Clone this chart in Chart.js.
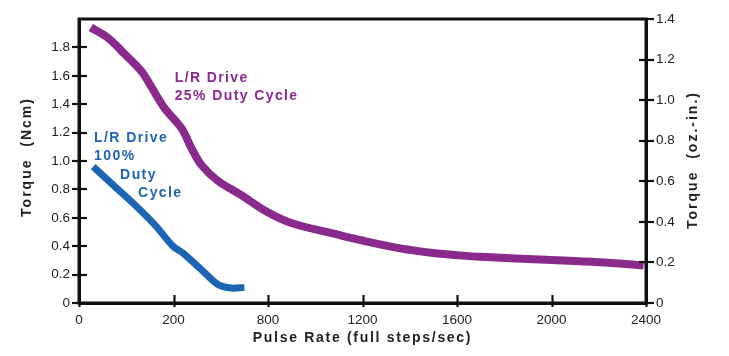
<!DOCTYPE html>
<html>
<head>
<meta charset="utf-8">
<script src="https://cdn.jsdelivr.net/npm/chart.js@4/dist/chart.umd.min.js"></script>
<style>
html,body{margin:0;padding:0;background:#fff;}
#wrap{width:729px;height:356px;position:relative;}
</style>
</head>
<body>
<div id="wrap"><canvas id="c" width="729" height="356"></canvas></div>
<script>
// ---- data ----
const xTickValues = [0, 400, 800, 1200, 1600, 2000, 2400];
const xTickLabels = ['0', '200', '800', '1200', '1600', '2000', '2400'];
const leftTickValues = [0, 0.2, 0.4, 0.6, 0.8, 1.0, 1.2, 1.4, 1.6, 1.8];
const rightTickValues = [0, 0.2, 0.4, 0.6, 0.8, 1.0, 1.2, 1.4];

const drive25X = [50, 120, 195, 265, 307, 363, 434, 476, 519, 588, 687, 793, 905, 1075, 1200, 1360, 1500, 1600, 1700, 2000, 2200, 2390];
const drive25Y = [1.94, 1.87, 1.75, 1.63, 1.52, 1.37, 1.23, 1.09, 0.97, 0.86, 0.76, 0.645, 0.56, 0.49, 0.44, 0.385, 0.352, 0.337, 0.325, 0.303, 0.287, 0.265];

const drive100X = [60, 152, 237, 321, 398, 441, 518, 588, 645, 700];
const drive100Y = [0.96, 0.82, 0.69, 0.55, 0.40, 0.35, 0.235, 0.13, 0.105, 0.11];

const seriesLabels = ['L/R Drive 25% Duty Cycle', 'L/R Drive 100% Duty Cycle'];
const xTitle = 'Pulse Rate (full steps/sec)';
const yTitle = 'Torque  (Ncm)';
const y2Title = 'Torque  (oz.-in.)';

// ---- styling ----
const PURPLE = '#8b2a8d';
const BLUE = '#1e64b4';
const FONT = '"Liberation Sans", Arial, Helvetica, sans-serif';

const toPts = (xs, ys) => xs.map((x, i) => ({x: x, y: ys[i]}));

const annotations = [
  {lines: ['L/R Drive', '25% Duty Cycle'], x: 405, y: 1.585, dy: 18.5, indent: [0, 0], color: PURPLE},
  {lines: ['L/R Drive', '100%', 'Duty', 'Cycle'], x: 64, y: 1.16, dy: 18.3, indent: [0, 0, 26, 44], color: BLUE}
];

const framePlugin = {
  id: 'frame',
  afterDatasetsDraw(chart) {
    const ctx = chart.ctx, a = chart.chartArea;
    const xs = chart.scales.x, yl = chart.scales.y, yr = chart.scales.y2;
    ctx.save();
    ctx.strokeStyle = '#111';
    ctx.lineCap = 'butt';
    // tick marks crossing the axes
    ctx.lineWidth = 2.2;
    xTickValues.forEach(v => {
      const p = Math.round(xs.getPixelForValue(v)) + 0.5;
      ctx.beginPath(); ctx.moveTo(p, a.bottom - 8); ctx.lineTo(p, a.bottom + 4); ctx.stroke();
    });
    leftTickValues.forEach(v => {
      const p = Math.round(yl.getPixelForValue(v));
      ctx.beginPath(); ctx.moveTo(a.left - 7, p); ctx.lineTo(a.left + 8, p); ctx.stroke();
    });
    rightTickValues.forEach(v => {
      const p = Math.round(yr.getPixelForValue(v));
      ctx.beginPath(); ctx.moveTo(a.right - 7, p); ctx.lineTo(a.right + 8, p); ctx.stroke();
    });
    // box
    ctx.lineWidth = 3;
    ctx.beginPath();
    ctx.moveTo(a.left, a.bottom);
    ctx.lineTo(a.left, a.top);
    ctx.lineTo(a.right, a.top);
    ctx.lineTo(a.right, a.bottom);
    ctx.closePath();
    ctx.stroke();
    ctx.restore();

    // annotations
    ctx.save();
    ctx.font = 'bold 14px ' + FONT;
    ctx.textBaseline = 'middle';
    ctx.textAlign = 'left';
    try { ctx.letterSpacing = '1.4px'; } catch (e) {}
    annotations.forEach(an => {
      const x0 = xs.getPixelForValue(an.x);
      const y0 = yl.getPixelForValue(an.y);
      ctx.fillStyle = an.color;
      an.lines.forEach((t, i) => ctx.fillText(t, x0 + an.indent[i], y0 + i * an.dy));
    });
    ctx.restore();

    // axis titles
    ctx.save();
    ctx.fillStyle = '#222';
    ctx.textBaseline = 'middle';
    ctx.textAlign = 'center';
    ctx.font = 'bold 14px ' + FONT;
    try { ctx.letterSpacing = '1.7px'; } catch (e) {}
    ctx.fillText(xTitle, (a.left + a.right) / 2, 338);
    try { ctx.letterSpacing = '2px'; } catch (e) {}
    ctx.save();
    ctx.translate(27, 157);
    ctx.rotate(-Math.PI / 2);
    ctx.fillText(yTitle, 0, 0);
    ctx.restore();
    ctx.save();
    ctx.translate(693, 160);
    ctx.rotate(-Math.PI / 2);
    ctx.fillText(y2Title, 0, 0);
    ctx.restore();
    ctx.restore();
  }
};

new Chart(document.getElementById('c'), {
  type: 'line',
  data: {
    datasets: [
      {label: seriesLabels[0], data: toPts(drive25X, drive25Y), borderColor: PURPLE, borderWidth: 8,
       pointRadius: 0, tension: 0.35, borderCapStyle: 'butt', borderJoinStyle: 'round', fill: false, yAxisID: 'y'},
      {label: seriesLabels[1], data: toPts(drive100X, drive100Y), borderColor: BLUE, borderWidth: 7,
       pointRadius: 0, tension: 0.3, borderCapStyle: 'butt', borderJoinStyle: 'round', fill: false, yAxisID: 'y'}
    ]
  },
  options: {
    responsive: false,
    animation: false,
    devicePixelRatio: 1,
    layout: {padding: {top: 19, left: 0, right: 0, bottom: 0}},
    plugins: {legend: {display: false}, tooltip: {enabled: false}},
    scales: {
      x: {
        type: 'linear', min: 0, max: 2400,
        afterBuildTicks: s => { s.ticks = xTickValues.map(v => ({value: v})); },
        afterFit: s => { s.height = 53; },
        grid: {display: false, drawTicks: false},
        border: {display: true, color: '#111', width: 3},
        ticks: {
          padding: 9, color: '#222', font: {family: FONT, size: 13.5}, maxRotation: 0,
          callback: (v) => { const i = xTickValues.indexOf(v); return i >= 0 ? xTickLabels[i] : ''; }
        }
      },
      y: {
        type: 'linear', position: 'left', min: 0, max: 2.0,
        afterBuildTicks: s => { s.ticks = leftTickValues.map(v => ({value: v})); },
        afterFit: s => { s.width = 79; },
        grid: {display: false, drawTicks: false},
        border: {display: true, color: '#111', width: 3},
        ticks: {padding: 9, color: '#222', font: {family: FONT, size: 13.5},
          callback: v => v === 0 ? '0' : Number(v).toFixed(1)}
      },
      y2: {
        type: 'linear', position: 'right', min: 0, max: 1.4,
        afterBuildTicks: s => { s.ticks = rightTickValues.map(v => ({value: v})); },
        afterFit: s => { s.width = 83; },
        grid: {display: false, drawTicks: false},
        border: {display: true, color: '#111', width: 3},
        ticks: {padding: 10, color: '#222', font: {family: FONT, size: 13.5},
          callback: v => v === 0 ? '0' : Number(v).toFixed(1)}
      }
    }
  },
  plugins: [framePlugin]
});
</script>
</body>
</html>
